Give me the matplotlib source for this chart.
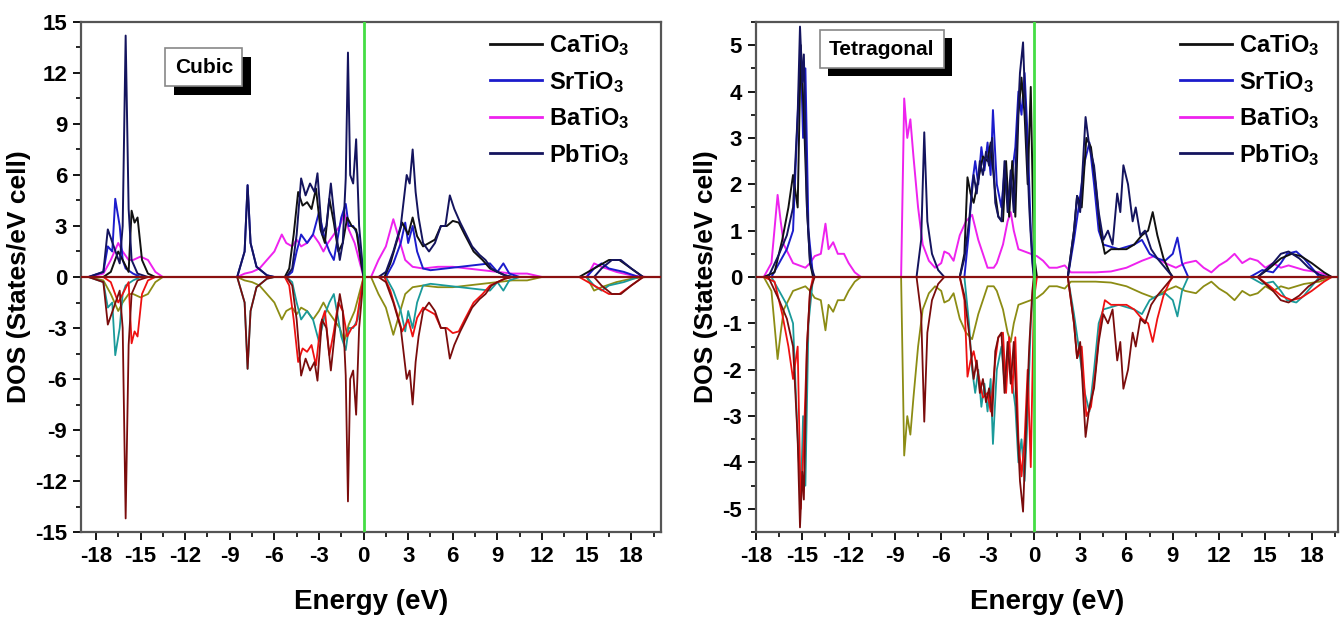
import matplotlib
matplotlib.use("Agg")
import matplotlib.pyplot as plt
import matplotlib.patheffects as pe
from matplotlib.ticker import MultipleLocator
import numpy as np

FAM = ['Liberation Sans', 'DejaVu Sans']
plt.rcParams['font.family'] = FAM
plt.rcParams['font.weight'] = 'bold'
plt.rcParams['axes.unicode_minus'] = False
plt.rcParams['mathtext.fontset'] = 'custom'
plt.rcParams['mathtext.rm'] = 'Liberation Sans:bold'
plt.rcParams['mathtext.it'] = 'Liberation Sans:bold'
plt.rcParams['mathtext.bf'] = 'Liberation Sans:bold'

compounds = ['CaTiO$_3$', 'SrTiO$_3$', 'BaTiO$_3$', 'PbTiO$_3$']
up_colors = ['#111111', '#1c1ccc', '#ee22ee', '#14145e']
down_colors = ['#ee1111', '#1a9a9a', '#8c8c14', '#7a0c0c']

# ---------------- Cubic (E in eV, DOS in states/eV cell) ----------------
cub_ca_E = [-19, -17.5, -17, -16.5, -16.2, -15.8, -15.6, -15.4, -15.2, -14.9, -14.5, -14,
            -5.3, -5.0, -4.7, -4.4, -4.1, -3.8, -3.5, -3.2, -2.9, -2.6, -2.3, -2.0, -1.7, -1.4,
            -1.1, -0.8, -0.5, -0.2, 0.0,
            1.4, 1.8, 2.2, 2.6, 3.0, 3.3, 3.6, 4.0, 4.4, 4.8, 5.2, 5.6, 6.0, 6.4, 6.8, 7.4, 8.0,
            8.5, 9.0, 9.5, 10.0,
            14.5, 15.5, 16.5, 17.2, 18.0, 18.8, 20]
cub_ca_D = [0, 0, 0.3, 1.5, 1.0, 0.3, 3.9, 3.2, 3.5, 1.0, 0.2, 0,
            0, 0.5, 2.5, 5.0, 4.2, 4.4, 4.0, 5.2, 2.8, 2.0, 4.6, 3.2, 1.5, 2.0,
            3.5, 3.0, 2.8, 1.0, 0,
            0, 0.8, 2.0, 3.2, 2.5, 3.5, 2.4, 1.8, 2.0, 2.2, 3.0, 3.0, 3.3, 3.2, 2.5, 1.5, 1.0,
            0.5, 0.3, 0.1, 0,
            0, 0.5, 1.0, 1.0, 0.5, 0, 0]

cub_sr_E = [-19, -18.5, -17.5, -17.2, -16.9, -16.7, -16.4, -16.2, -16.0, -15.5, -15.0,
            -8.5, -8.0, -7.8, -7.6, -7.2, -6.5, -6.0,
            -5.2, -4.8, -4.5, -4.2, -3.8, -3.4, -3.0, -2.6, -2.3, -2.0, -1.8, -1.5, -1.2,
            -1.0, -0.7, -0.4, -0.1, 0.1,
            1.5, 2.0, 2.5, 2.8, 3.0, 3.3, 3.6, 4.0, 4.5, 5.5, 6.5, 7.5, 8.5, 9.0, 9.4, 9.8, 10.5,
            15.0, 15.5, 16.0, 16.5, 17.5, 18.5, 20]
cub_sr_D = [0, 0, 0.3, 1.8, 1.5, 4.6, 3.0, 1.0, 0.5, 0.2, 0,
            0, 1.5, 5.4, 2.0, 0.6, 0.1, 0,
            0, 0.3, 1.5, 2.5, 2.0, 2.5, 3.8, 2.2, 1.5, 1.0, 2.0, 3.5, 4.3,
            3.0, 3.0, 2.5, 0.5, 0,
            0, 0.8, 2.0, 3.2, 2.0, 3.0, 1.5, 0.5, 0.4, 0.5, 0.6, 0.7, 0.8, 0.3, 0.8, 0.2, 0,
            0, 0.5, 0.8, 0.5, 0.3, 0, 0]

cub_ba_E = [-19, -18.5, -17.5, -17.0, -16.5, -16.2, -15.8, -15.5, -15.0, -14.5, -14.0, -13.5,
            -8.5, -8.0, -7.5, -7.0, -6.5, -6.0, -5.5, -5.2, -4.8, -4.5, -4.2, -3.8, -3.4, -3.0,
            -2.7, -2.4, -2.0, -1.6, -1.3, -1.0, -0.6, -0.3, 0.0,
            0.5, 1.0, 1.5, 2.0, 2.3, 2.8, 3.3, 4.0, 5.0, 6.0, 7.0, 8.0, 9.0, 10.0, 11.0, 12.0,
            15.0, 15.5, 16.0, 17.0, 18.0, 19.0, 20]
cub_ba_D = [0, 0, 0.2, 1.0, 2.0, 1.5, 1.0, 1.0, 1.2, 1.0, 0.3, 0,
            0, 0.2, 0.3, 0.5, 1.0, 1.5, 2.5, 2.0, 1.8, 2.2, 1.8, 2.0, 2.5, 2.0,
            1.5, 2.0, 2.5, 3.0, 3.8, 2.8, 2.0, 1.0, 0,
            0, 1.0, 1.8, 3.4, 2.5, 1.0, 0.6, 0.5, 0.6, 0.6, 0.5, 0.4, 0.3, 0.2, 0.2, 0,
            0, 0.8, 0.6, 0.3, 0.1, 0, 0]

cub_pb_E = [-19, -18.5, -17.5, -17.2, -16.8, -16.4, -16.2, -16.0, -15.8, -15.6, -15.2, -14.5,
            -8.5, -8.0, -7.8, -7.6, -7.2, -6.5, -6.0,
            -5.2, -4.8, -4.5, -4.2, -3.9, -3.6, -3.3, -3.1, -2.8, -2.5, -2.2, -1.9, -1.6, -1.4,
            -1.2, -1.05, -0.9, -0.7, -0.5, -0.3, 0.0,
            1.0, 1.5, 2.0, 2.5, 2.9, 3.1, 3.3, 3.5, 3.7, 4.0, 4.4, 4.8, 5.2, 5.5, 5.8, 6.1, 6.5,
            6.9, 7.3, 7.8, 8.2, 8.6, 9.0, 9.5, 10.0,
            15.5, 16.0, 16.7, 17.3, 18.0, 18.8, 20]
cub_pb_D = [0, 0, 0.3, 2.8, 1.8, 0.8, 3.0, 14.2, 4.0, 1.0, 0.2, 0,
            0, 1.5, 5.4, 2.0, 0.6, 0.1, 0,
            0, 0.5, 2.5, 5.8, 4.8, 5.5, 5.0, 6.1, 2.5, 3.0, 5.5, 3.0, 1.0, 2.0,
            5.8, 13.2, 6.0, 5.5, 8.1, 3.0, 0,
            0, 0.3, 1.5, 3.0, 6.0, 5.5, 7.5, 5.0, 3.5, 2.0, 1.5, 2.0, 3.0, 3.0, 4.8, 4.0, 3.2,
            2.5, 1.8, 1.3, 1.0, 0.5, 0.3, 0.1, 0,
            0, 0.5, 1.0, 1.0, 0.5, 0, 0]

# ---------------- Tetragonal ----------------
tet_ca_E = [-18, -17.5, -16.8, -16.3, -15.9, -15.6, -15.3, -15.1, -14.9, -14.7, -14.5, -14.3,
            -4.8, -4.5, -4.3, -4.1, -3.9, -3.6, -3.3, -3.0, -2.8, -2.5, -2.3, -2.0, -1.8, -1.6,
            -1.4, -1.2, -1.0, -0.8, -0.6, -0.4, -0.2, 0.0, 0.2,
            2.2, 2.6, 2.8, 3.1, 3.4, 3.7, 4.0, 4.3, 4.6, 5.0, 5.5, 6.0, 6.5, 7.0, 7.4, 7.7, 8.0,
            8.4, 8.8, 9.0,
            14.5, 15.3, 16.0, 16.7, 17.3, 18.0, 18.8, 19.3, 19.7]
tet_ca_D = [0, 0, 0.1, 0.8, 1.5, 2.2, 1.5, 5.0, 3.5, 1.5, 0.3, 0,
            0, 0.5, 2.15, 1.8, 1.6, 2.1, 2.6, 2.5, 2.9, 1.8, 1.3, 1.2, 2.5, 1.3,
            2.5, 1.3, 3.5, 4.3, 3.5, 2.0, 4.1, 0.5, 0,
            0, 1.0, 1.75, 1.5, 3.0, 2.8, 2.0, 1.0, 0.5, 0.6, 0.6, 0.6, 0.7, 0.9, 1.0, 1.4, 0.9,
            0.4, 0.1, 0,
            0, 0.2, 0.4, 0.5, 0.45, 0.3, 0.1, 0, 0]

tet_sr_E = [-18, -17.0, -16.5, -16.0, -15.6, -15.3, -15.1, -14.95, -14.8, -14.6, -14.3,
            -4.5, -4.2, -4.0, -3.8, -3.6, -3.4, -3.2, -3.0, -2.8, -2.65, -2.4, -2.1, -1.9, -1.7,
            -1.5, -1.2, -1.0, -0.8, -0.6, -0.4, -0.2, 0.0,
            2.2, 2.6, 2.9, 3.3, 3.6, 3.9, 4.2, 4.5, 5.0, 5.5, 6.0, 6.5, 7.0, 7.5, 8.0, 8.5, 9.0,
            9.3, 9.6, 10.0,
            14.0, 14.8, 15.5, 16.0, 16.4, 17.0, 17.5, 18.0, 18.5, 19.7]
tet_sr_D = [0, 0, 0.3, 0.6, 1.0, 3.5, 4.8, 3.0, 4.5, 1.0, 0,
            0, 1.0, 2.0, 2.5, 2.0, 2.8, 2.3, 2.9, 2.2, 3.6, 2.0, 1.5, 2.3, 1.6,
            2.0, 2.8, 4.0, 3.5, 4.4, 3.0, 1.0, 0,
            0, 0.8, 1.5, 2.5, 2.9, 2.0, 1.0, 0.7, 0.65, 0.6, 0.65, 0.7, 0.8, 0.5, 0.4, 0.35, 0.5,
            0.85, 0.3, 0,
            0, 0.15, 0.1, 0.3, 0.5, 0.55, 0.4, 0.2, 0, 0]

tet_ba_E = [-18, -17.5, -17.0, -16.6, -16.4, -16.2, -15.9, -15.6, -15.2, -14.8, -14.5, -14.2,
            -13.8, -13.5, -13.3, -13.0, -12.7, -12.3, -12.0, -11.6, -11.2,
            -8.6, -8.4, -8.2, -8.0, -7.8, -7.5, -7.2, -6.8, -6.4, -6.0, -5.8, -5.5, -5.2, -4.8,
            -4.4, -4.0, -3.6, -3.2, -3.0, -2.6, -2.4, -2.0, -1.7, -1.5, -1.3, -1.0, -0.6, -0.2,
            0.2, 0.6, 1.0, 1.5, 2.0, 2.4, 3.0, 4.0, 5.0, 6.0, 7.0, 7.8, 8.5, 9.2, 9.8, 10.5,
            11.0, 11.5, 12.0, 12.5, 13.0, 13.5, 14.0, 14.5, 15.0, 15.5, 16.0, 16.5, 17.5, 18.5,
            19.3, 19.7]
tet_ba_D = [0, 0, 0.3, 1.77, 1.2, 0.7, 0.5, 0.3, 0.25, 0.2, 0.3, 0.45,
            0.5, 1.15, 0.6, 0.75, 0.5, 0.5, 0.3, 0.1, 0,
            0, 3.85, 3.0, 3.4, 2.6, 1.5, 0.7, 0.35, 0.2, 0.3, 0.55, 0.5, 0.35, 0.9,
            1.2, 1.34, 0.8, 0.4, 0.2, 0.2, 0.3, 0.7, 1.2, 1.4, 1.0, 0.6, 0.55, 0.5,
            0.45, 0.35, 0.2, 0.2, 0.25, 0.1, 0.1, 0.1, 0.12, 0.2, 0.35, 0.45, 0.3, 0.2, 0.3, 0.35,
            0.2, 0.1, 0.25, 0.35, 0.5, 0.3, 0.4, 0.35, 0.2, 0.3, 0.2, 0.25, 0.15, 0.1,
            0, 0]

tet_pb_E = [-18, -17.2, -16.5, -16.0, -15.6, -15.3, -15.15, -15.0, -14.9, -14.7, -14.5, -14.2,
            -7.6, -7.3, -7.1, -6.9, -6.6, -6.2, -5.8,
            -4.8, -4.5, -4.2, -3.9, -3.7, -3.5, -3.3, -3.1, -2.9, -2.7, -2.5, -2.3, -2.1, -1.9,
            -1.7, -1.5, -1.3, -1.1, -0.9, -0.7, -0.5, -0.3, -0.1, 0.0,
            2.2, 2.6, 2.8, 3.0, 3.35, 3.6, 3.9, 4.2, 4.5, 4.8, 5.1, 5.4, 5.6, 5.8, 6.1, 6.4, 6.6,
            6.9, 7.2, 7.6, 8.0, 8.5, 9.0,
            14.5, 15.5, 16.0, 16.5, 17.2, 17.8, 18.5, 19.0, 19.7]
tet_pb_D = [0, 0, 0.5, 0.9, 1.5, 3.5, 5.4, 4.2, 4.8, 1.5, 0.3, 0,
            0, 0.8, 3.12, 1.2, 0.5, 0.15, 0,
            0, 0.4, 1.2, 2.2, 1.8, 2.5, 2.2, 2.7, 2.4, 3.0, 1.6, 1.3, 1.2, 2.5,
            1.4, 2.3, 1.4, 3.0, 4.4, 5.06, 3.2, 1.5, 0.3, 0,
            0, 1.0, 1.75, 1.4, 3.45, 2.8, 2.4, 1.4, 0.8, 1.0, 0.7, 1.8, 1.4, 2.41, 2.0, 1.2, 1.5,
            0.9, 1.0, 0.6, 0.4, 0.2, 0,
            0, 0.3, 0.5, 0.55, 0.4, 0.2, 0.05, 0, 0]

cubic = [(cub_ca_E, cub_ca_D), (cub_sr_E, cub_sr_D), (cub_ba_E, cub_ba_D), (cub_pb_E, cub_pb_D)]
tetra = [(tet_ca_E, tet_ca_D), (tet_sr_E, tet_sr_D), (tet_ba_E, tet_ba_D), (tet_pb_E, tet_pb_D)]

x_ticks = list(range(-18, 19, 3))

fig = plt.figure(figsize=(13.44, 6.19), dpi=100)
ax1 = fig.add_axes([0.0603, 0.1405, 0.4315, 0.824])
ax2 = fig.add_axes([0.5625, 0.1405, 0.433, 0.824])

panels = [
    (ax1, cubic, 'Cubic', (-19, 20), (-15, 15), 3, 1.5, (0.212, 0.911), (0.705, 0.98)),
    (ax2, tetra, 'Tetragonal', (-18, 19.7), (-5.5, 5.5), 1, 0.5, (0.2165, 0.947), (0.7285, 0.98)),
]

down_order = [2, 1, 0, 3]
up_order = [2, 1, 0, 3]
for ax, data, title, xl, yl, ymaj, ymin, tpos, lpos in panels:
    for i in down_order:
        E, D = data[i]
        ax.plot(E, -np.asarray(D), color=down_colors[i], lw=1.3)
    handles = {}
    for i in up_order:
        E, D = data[i]
        h, = ax.plot(E, D, color=up_colors[i], lw=1.4, label=compounds[i])
        handles[i] = h
    ax.axhline(0, color='#8a1010', lw=1.6, zorder=5)
    ax.axvline(0, color='#44dd44', lw=2.0, zorder=6)
    ax.set_xlim(*xl)
    ax.set_ylim(*yl)
    ax.set_xticks(x_ticks)
    ax.xaxis.set_minor_locator(MultipleLocator(1.5))
    ax.yaxis.set_major_locator(MultipleLocator(ymaj))
    ax.yaxis.set_minor_locator(MultipleLocator(ymin))
    ax.tick_params(which='major', direction='out', length=6, width=1.3, labelsize=16, pad=4)
    ax.tick_params(which='minor', direction='out', length=3.5, width=1.2)
    for lab in ax.get_xticklabels() + ax.get_yticklabels():
        lab.set_fontweight('bold')
    for s in ax.spines.values():
        s.set_color('#555555')
        s.set_linewidth(1.6)
    ax.set_xlabel('Energy (eV)', fontsize=20, fontweight='bold', labelpad=16)
    ax.set_ylabel('DOS (States/eV cell)', fontsize=19, fontweight='bold', labelpad=3)
    t = ax.text(tpos[0], tpos[1], title, transform=ax.transAxes, ha='center', va='center',
                fontsize=15, fontweight='bold', zorder=10,
                bbox=dict(boxstyle='square,pad=0.45', fc='white', ec='#888888', lw=1.2))
    t.get_bbox_patch().set_path_effects([pe.withSimplePatchShadow(offset=(6, -6), shadow_rgbFace='black', alpha=1.0)])
    leg = ax.legend([handles[i] for i in range(4)], compounds, loc='upper left',
                    bbox_to_anchor=lpos, frameon=False, fontsize=17, handlelength=2.2,
                    handletextpad=0.3, labelspacing=0.45, borderpad=0, borderaxespad=0)
    for txt in leg.get_texts():
        txt.set_fontweight('bold')
    for ln in leg.get_lines():
        ln.set_linewidth(2.0)

fig.savefig('out.png', dpi=100)
